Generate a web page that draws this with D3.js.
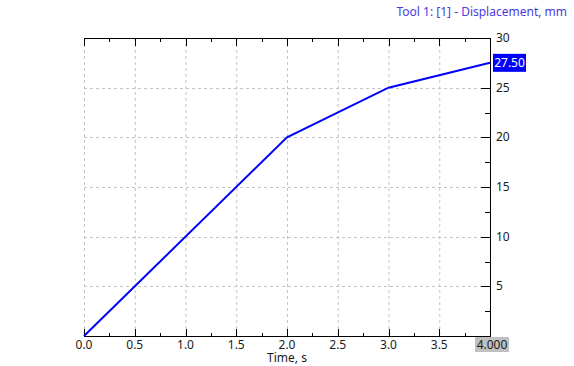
<!DOCTYPE html>
<html><head><meta charset="utf-8">
<script src="https://cdn.jsdelivr.net/npm/d3@7"></script>
<style>
html,body{margin:0;padding:0;background:#fff;}
svg{display:block;font-family:"Noto Sans","Open Sans",sans-serif;}
</style></head>
<body>
<svg id="chart" width="574" height="366"></svg>
<script>
const timeValues = [0, 2, 3, 4];
const displacementValues = [0, 20, 25, 27.5];
const xTickValues = [0, 0.5, 1, 1.5, 2, 2.5, 3, 3.5];
const yTickValues = [5, 10, 15, 20, 25, 30];
const titleText = "Tool 1: [1] - Displacement, mm";
const xLabelText = "Time, s";
const cursorXLabel = "4.000";
const cursorYLabel = "27.50";

const svg = d3.select("#chart");
const L = 84, R = 490, T = 38, B = 336;
const x = d3.scaleLinear().domain([0, 4]).range([L, R]);
const y = d3.scaleLinear().domain([0, 30]).range([B, T]);

// grid
const g = svg.append("g");
g.selectAll(".vg").data(xTickValues).enter().append("line")
  .attr("x1", d => x(d) + 0.5).attr("x2", d => x(d) + 0.5)
  .attr("y1", T).attr("y2", B)
  .attr("stroke", "#c4c4c4").attr("stroke-dasharray", "3,3");
g.selectAll(".hg").data(yTickValues.filter(v => v < 30)).enter().append("line")
  .attr("y1", d => Math.round(y(d)) + 0.5).attr("y2", d => Math.round(y(d)) + 0.5)
  .attr("x1", L).attr("x2", R)
  .attr("stroke", "#c4c4c4").attr("stroke-dasharray", "3,3");

// frame lines
svg.append("line").attr("x1", L).attr("x2", R + 0.5).attr("y1", T + 0.5).attr("y2", T + 0.5).attr("stroke", "#000");
svg.append("line").attr("x1", L).attr("x2", R + 0.5).attr("y1", B + 0.5).attr("y2", B + 0.5).attr("stroke", "#000");
svg.append("line").attr("x1", R + 0.5).attr("x2", R + 0.5).attr("y1", T).attr("y2", B + 1).attr("stroke", "#000");

const minorX = d3.range(0, 4, 0.25);
// top ticks (pointing down)
svg.append("g").selectAll("line").data(minorX).enter().append("line")
  .attr("x1", d => Math.round(x(d)) + 0.5).attr("x2", d => Math.round(x(d)) + 0.5)
  .attr("y1", T).attr("y2", (d, i) => T + (i % 2 === 0 ? 8 : 4))
  .attr("stroke", "#000");
// bottom ticks (pointing up)
svg.append("g").selectAll("line").data(minorX).enter().append("line")
  .attr("x1", d => Math.round(x(d)) + 0.5).attr("x2", d => Math.round(x(d)) + 0.5)
  .attr("y1", B + 1).attr("y2", (d, i) => B + 1 - (i % 2 === 0 ? 8 : 4))
  .attr("stroke", "#000");
// right ticks (pointing left)
const minorY = d3.range(2.5, 30, 2.5);
svg.append("g").selectAll("line").data(minorY).enter().append("line")
  .attr("y1", d => Math.round(y(d)) + 0.5).attr("y2", d => Math.round(y(d)) + 0.5)
  .attr("x1", R).attr("x2", (d, i) => R - (i % 2 === 1 ? 9 : 5))
  .attr("stroke", "#000");

// x tick labels
svg.append("g").selectAll("text").data(xTickValues).enter().append("text")
  .attr("x", d => x(d)).attr("y", 349).attr("text-anchor", "middle")
  .attr("font-size", 12).attr("fill", "#1a1a1a").text(d => d.toFixed(1));
// y tick labels
svg.append("g").selectAll("text").data(yTickValues).enter().append("text")
  .attr("x", R + 6).attr("y", d => y(d) + 4).attr("text-anchor", "start")
  .attr("font-size", 12).attr("fill", "#1a1a1a").text(d => d);

// axis title
svg.append("text").attr("x", 287).attr("y", 362).attr("text-anchor", "middle")
  .attr("font-size", 12).attr("fill", "#1a1a1a").text(xLabelText);

// chart title
svg.append("text").attr("x", 567).attr("y", 16).attr("text-anchor", "end")
  .attr("font-size", 12).attr("fill", "#4a3be0").text(titleText);

// data line
const line = d3.line().x(d => x(d[0])).y(d => y(d[1]));
svg.append("path").datum(timeValues.map((t, i) => [t, displacementValues[i]]))
  .attr("d", line).attr("fill", "none").attr("stroke", "#0000ff").attr("stroke-width", 2);

// cursor labels
const lastY = y(displacementValues[displacementValues.length - 1]);
svg.append("rect").attr("x", 493).attr("y", lastY - 9).attr("width", 33).attr("height", 18).attr("fill", "#0000ff");
svg.append("text").attr("x", 509.5).attr("y", lastY + 4.5).attr("text-anchor", "middle")
  .attr("font-size", 12).attr("fill", "#fff").text(cursorYLabel);

svg.append("rect").attr("x", 475).attr("y", 337).attr("width", 34).attr("height", 15).attr("fill", "#c0c0c0");
svg.append("text").attr("x", 492).attr("y", 349).attr("text-anchor", "middle")
  .attr("font-size", 12).attr("fill", "#1a1a1a").text(cursorXLabel);
</script>
</body></html>
